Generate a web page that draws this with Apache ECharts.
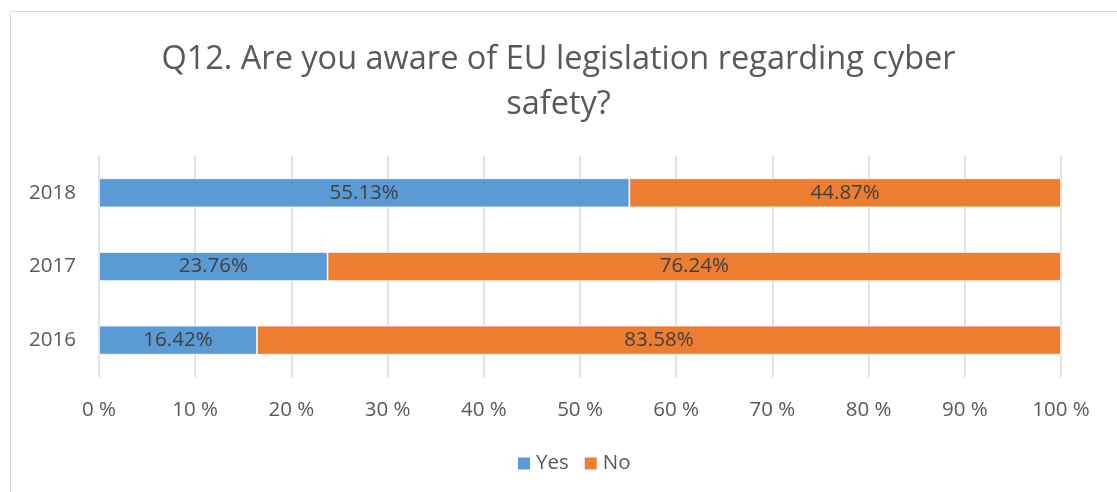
<!DOCTYPE html>
<html>
<head>
<meta charset="utf-8">
<script src="https://cdn.jsdelivr.net/npm/echarts@6/dist/echarts.min.js"></script>
<style>
  html, body { margin: 0; padding: 0; background: #fff; }
  #chart { width: 1117px; height: 492px; }
</style>
</head>
<body>
<div id="chart"></div>
<script>
// Survey answers per year (share of respondents, %)
const years = ['2016', '2017', '2018'];
const yesValues = [16.42, 23.76, 55.13];
const noValues = [83.58, 76.24, 44.87];
const seriesNames = ['Yes', 'No'];
const titleText = 'Q12. Are you aware of EU legislation regarding cyber\nsafety?';

const FONT = '"Open Sans", "Noto Sans", sans-serif';
const chart = echarts.init(document.getElementById('chart'));

const labelStyle = {
  show: true,
  position: 'inside',
  color: '#404040',
  fontFamily: FONT,
  fontSize: 20.5,
  formatter: p => p.value.toFixed(2) + '%'
};

chart.setOption({
  animation: false,
  backgroundColor: '#fff',
  graphic: [{
    type: 'rect',
    shape: { x: 10.5, y: 11.5, width: 1200, height: 600 },
    style: { fill: 'none', stroke: '#d9d9d9', lineWidth: 1 },
    silent: true
  }],
  title: {
    text: titleText,
    left: 'center',
    top: 32,
    textStyle: {
      fontFamily: FONT,
      fontSize: 32.5,
      fontWeight: 'normal',
      color: '#595959',
      lineHeight: 45
    }
  },
  legend: {
    data: seriesNames,
    bottom: 13,
    left: 511,
    itemWidth: 14,
    itemHeight: 14,
    itemGap: 14,
    itemTextGap: 7,
    icon: 'rect',
    textStyle: { fontFamily: FONT, fontSize: 20.5, color: '#595959' }
  },
  grid: { left: 99, right: 56, top: 156, height: 221, containLabel: false },
  xAxis: {
    type: 'value',
    min: 0,
    max: 100,
    interval: 10,
    axisLine: { show: false },
    axisTick: { show: false },
    axisLabel: {
      formatter: v => v + ' %',
      fontFamily: FONT,
      fontSize: 20.5,
      color: '#595959',
      margin: 23
    },
    splitLine: { lineStyle: { color: '#d9d9d9', width: 1.5 } }
  },
  yAxis: {
    type: 'category',
    data: years,
    axisLine: { show: false },
    axisTick: { show: false },
    axisLabel: { fontFamily: FONT, fontSize: 20.5, color: '#595959', margin: 23 }
  },
  series: [
    {
      name: seriesNames[0],
      type: 'bar',
      stack: 'total',
      data: yesValues,
      barWidth: 29,
      itemStyle: { color: '#5b9bd5', borderColor: '#fff', borderWidth: 0.75 },
      label: labelStyle
    },
    {
      name: seriesNames[1],
      type: 'bar',
      stack: 'total',
      data: noValues,
      barWidth: 29,
      itemStyle: { color: '#ed7d31', borderColor: '#fff', borderWidth: 0.75 },
      label: labelStyle
    }
  ]
});
</script>
</body>
</html>
